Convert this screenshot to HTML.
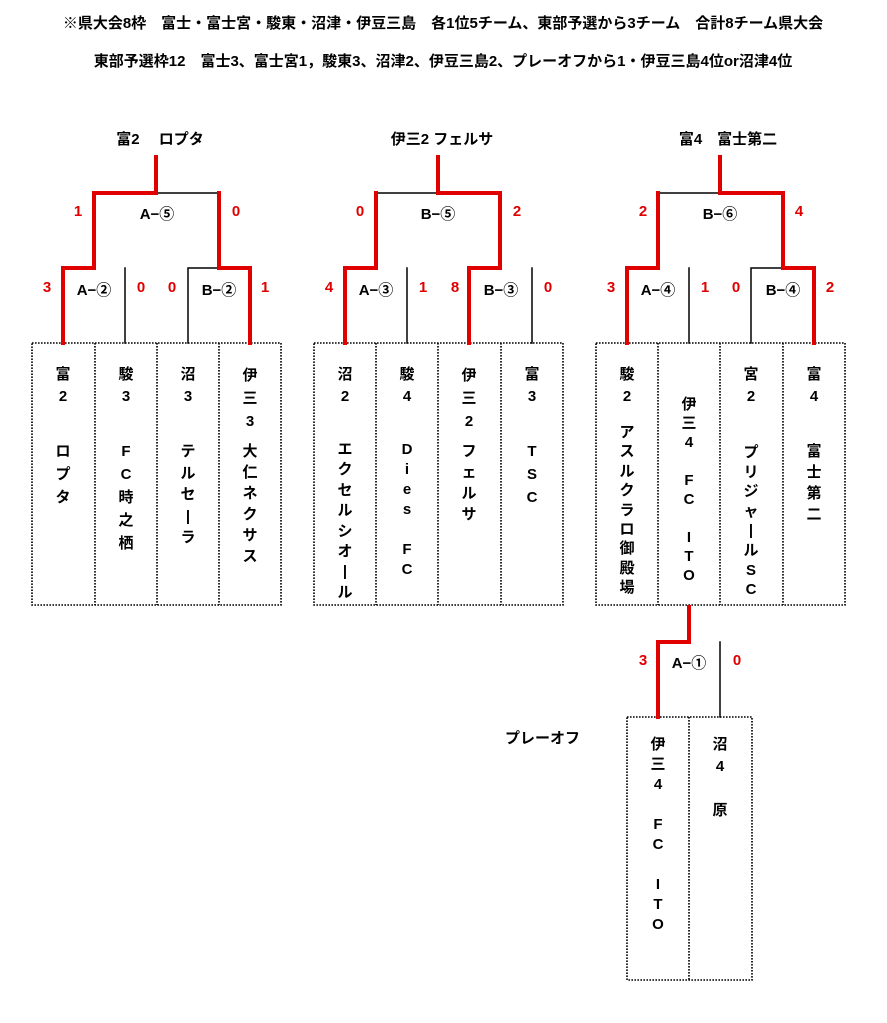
<!DOCTYPE html>
<html><head><meta charset="utf-8"><style>
body{margin:0;width:887px;height:1023px;background:#fff;position:relative;overflow:hidden;font-family:"Liberation Sans","Noto Sans CJK JP",sans-serif;font-weight:bold;color:#000}
.t{position:absolute;white-space:nowrap;font-size:15px}
.c{position:absolute;transform:translateX(-50%);white-space:nowrap;font-size:15px}
.r{color:#e00000}
.col{position:absolute;width:62px;text-align:center;font-size:15px;line-height:22px}
svg{position:absolute;left:0;top:0}
</style></head><body>
<div class="c" style="left:443px;top:12px">※県大会8枠　富士・富士宮・駿東・沼津・伊豆三島　各1位5チーム、東部予選から3チーム　合計8チーム県大会</div>
<div class="c" style="left:443px;top:50px">東部予選枠12　富士3、富士宮1，駿東3、沼津2、伊豆三島2、プレーオフから1・伊豆三島4位or沼津4位</div>

<div class="c" style="left:160px;top:128px">富2　 ロプタ</div>
<div class="c" style="left:442px;top:128px">伊三2 フェルサ</div>
<div class="c" style="left:728px;top:128px">富4　富士第二</div>

<svg width="887" height="1023">
<g fill="none" stroke="#000" stroke-width="1.6" stroke-dasharray="1.6 1.4">
<rect x="32" y="343" width="249" height="262"/>
<path d="M95 343V605M157 343V605M219 343V605"/>
<rect x="314" y="343" width="249" height="262"/>
<path d="M376 343V605M438 343V605M501 343V605"/>
<rect x="596" y="343" width="249" height="262"/>
<path d="M658 343V605M720 343V605M783 343V605"/>
<rect x="627" y="717" width="125" height="263"/>
<path d="M689 717V980"/>
</g>
<g fill="none" stroke-linecap="square">
<path d="M125 268V343M188 343V268H219M156 193H219" stroke="#000" stroke-width="1.5"/>
<path d="M63 343V268H94V193H156V157M250 343V268H219V193" stroke="#e00000" stroke-width="4"/>
<path d="M407 268V343M532 268V343M376 193H438" stroke="#000" stroke-width="1.5"/>
<path d="M345 343V268H376V193M469 343V268H500V193H438V157" stroke="#e00000" stroke-width="4"/>
<path d="M689 268V343M751 343V268H783M658 193H720" stroke="#000" stroke-width="1.5"/>
<path d="M627 343V268H658V193M814 343V268H783V193H720V157" stroke="#e00000" stroke-width="4"/>
<path d="M720 642V717" stroke="#000" stroke-width="1.5"/>
<path d="M689 607V642H658V717" stroke="#e00000" stroke-width="4"/>
</g></svg>

<div class="c r" style="left:78px;top:203px">1</div><div class="c" style="left:157px;top:203px">A−⑤</div><div class="c r" style="left:236px;top:203px">0</div>
<div class="c r" style="left:47px;top:279px">3</div><div class="c" style="left:94px;top:279px">A−②</div><div class="c r" style="left:141px;top:279px">0</div>
<div class="c r" style="left:172px;top:279px">0</div><div class="c" style="left:219px;top:279px">B−②</div><div class="c r" style="left:265px;top:279px">1</div>
<div class="c r" style="left:360px;top:203px">0</div><div class="c" style="left:438px;top:203px">B−⑤</div><div class="c r" style="left:517px;top:203px">2</div>
<div class="c r" style="left:329px;top:279px">4</div><div class="c" style="left:376px;top:279px">A−③</div><div class="c r" style="left:423px;top:279px">1</div>
<div class="c r" style="left:455px;top:279px">8</div><div class="c" style="left:501px;top:279px">B−③</div><div class="c r" style="left:548px;top:279px">0</div>
<div class="c r" style="left:643px;top:203px">2</div><div class="c" style="left:720px;top:203px">B−⑥</div><div class="c r" style="left:799px;top:203px">4</div>
<div class="c r" style="left:611px;top:279px">3</div><div class="c" style="left:658px;top:279px">A−④</div><div class="c r" style="left:705px;top:279px">1</div>
<div class="c r" style="left:736px;top:279px">0</div><div class="c" style="left:783px;top:279px">B−④</div><div class="c r" style="left:830px;top:279px">2</div>
<div class="c r" style="left:643px;top:652px">3</div><div class="c" style="left:689px;top:652px">A−①</div><div class="c r" style="left:737px;top:652px">0</div>
<div class="t" style="left:505px;top:727px">プレーオフ</div>

<div class="col" style="left:32px;top:364px">富<br>2</div>
<div class="col" style="left:32px;top:440px;line-height:23px">ロ<br>プ<br>タ</div>
<div class="col" style="left:95px;top:364px">駿<br>3</div>
<div class="col" style="left:95px;top:440px;line-height:23px">F<br>C<br>時<br>之<br>栖</div>
<div class="col" style="left:157px;top:364px">沼<br>3</div>
<div class="col" style="left:157px;top:441px;line-height:21.5px">テ<br>ル<br>セ<br>|<br>ラ</div>
<div class="col" style="left:219px;top:364px;line-height:23px">伊<br>三<br>3</div>
<div class="col" style="left:219px;top:441px;line-height:21px">大<br>仁<br>ネ<br>ク<br>サ<br>ス</div>

<div class="col" style="left:314px;top:364px">沼<br>2</div>
<div class="col" style="left:314px;top:440px;line-height:20.4px">エ<br>ク<br>セ<br>ル<br>シ<br>オ<br>|<br>ル</div>
<div class="col" style="left:376px;top:364px">駿<br>4</div>
<div class="col" style="left:376px;top:440px;line-height:20px">D<br>i<br>e<br>s<br>&nbsp;<br>F<br>C</div>
<div class="col" style="left:438px;top:364px;line-height:23px">伊<br>三<br>2</div>
<div class="col" style="left:438px;top:441px;line-height:21px">フ<br>ェ<br>ル<br>サ</div>
<div class="col" style="left:501px;top:364px">富<br>3</div>
<div class="col" style="left:501px;top:440px;line-height:23px">T<br>S<br>C</div>

<div class="col" style="left:596px;top:364px">駿<br>2</div>
<div class="col" style="left:596px;top:423px;line-height:19.4px">ア<br>ス<br>ル<br>ク<br>ラ<br>ロ<br>御<br>殿<br>場</div>
<div class="col" style="left:658px;top:395px;line-height:19px">伊<br>三<br>4<br>&nbsp;<br>F<br>C<br>&nbsp;<br>I<br>T<br>O</div>
<div class="col" style="left:720px;top:364px">宮<br>2</div>
<div class="col" style="left:720px;top:443px;line-height:19.6px">プ<br>リ<br>ジ<br>ャ<br>|<br>ル<br>S<br>C</div>
<div class="col" style="left:783px;top:364px">富<br>4</div>
<div class="col" style="left:783px;top:441px;line-height:21px">富<br>士<br>第<br>二</div>

<div class="col" style="left:627px;top:735px;line-height:20px">伊<br>三<br>4<br>&nbsp;<br>F<br>C<br>&nbsp;<br>I<br>T<br>O</div>
<div class="col" style="left:689px;top:734px;line-height:22px">沼<br>4<br>&nbsp;<br>原</div>
</body></html>
